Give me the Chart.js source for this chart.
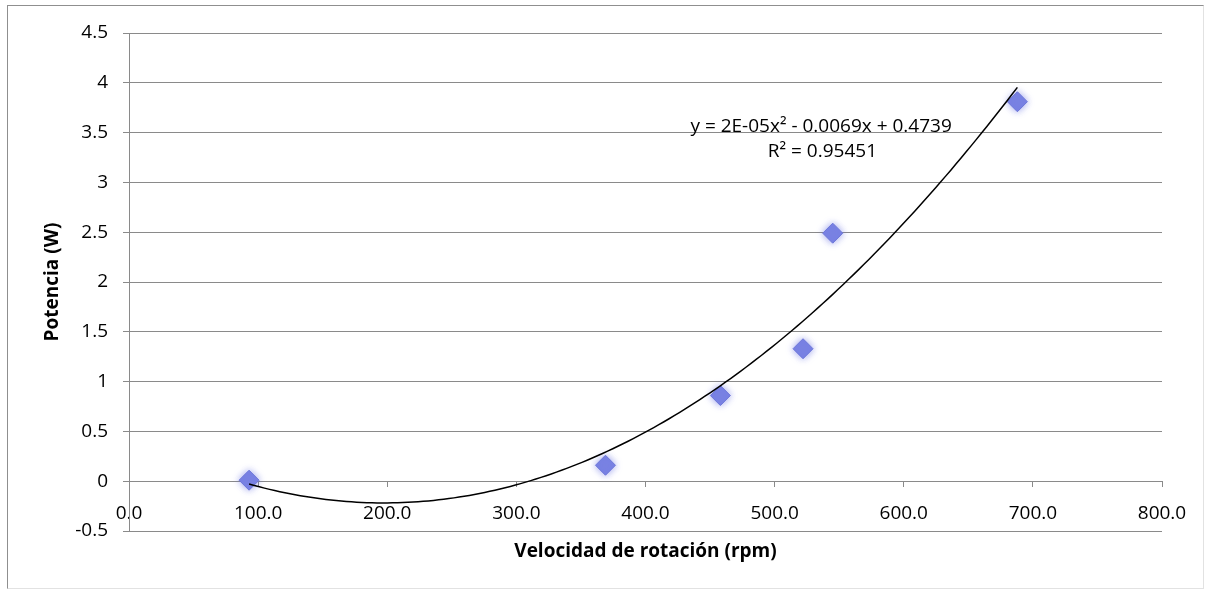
<!DOCTYPE html>
<html lang="es">
<head>
<meta charset="utf-8">
<title>Potencia vs velocidad de rotación</title>
<script src="https://cdn.jsdelivr.net/npm/chart.js@4.4.1/dist/chart.umd.min.js"></script>
<style>
  html, body { margin: 0; padding: 0; background: #fff; }
  #wrap { position: relative; width: 1212px; height: 590px; }
  #frame {
    position: absolute; left: 7px; top: 5px; width: 1195px; height: 582px;
    border-left: 1px solid #8f8f8f; border-top: 1px solid #8f8f8f;
    border-right: 1px solid #e2e2e2; border-bottom: 1px solid #e2e2e2;
    pointer-events: none;
  }
</style>
</head>
<body>
<div id="wrap">
  <canvas id="potChart" width="1212" height="590"></canvas>
  <div id="frame"></div>
</div>
<script>
// measured points
const rpm = [93, 369, 458, 522, 545, 688];
const potencia = [0.01, 0.16, 0.86, 1.33, 2.49, 3.81];

// axis ranges
const xRange = [0, 800, 100];
const yRange = [-0.5, 4.5, 0.5];

// trendline label text and its anchor (data units)
const eqText = 'y = 2E-05x\u00B2 - 0.0069x + 0.4739';
const r2Text = 'R\u00B2 = 0.95451';
const eqAnchor = [536, 3.56];
const r2Anchor = [537, 3.31];

const gridGrey = '#8a8a8a';
const fontFamily = '"Open Sans", "DejaVu Sans", sans-serif';

// least squares fit of a 2nd order polynomial -> [a, b, c]
function polyFit2(xs, ys) {
  let s = [0, 0, 0, 0, 0], t = [0, 0, 0];
  xs.forEach((x, i) => {
    for (let k = 0; k < 5; k++) s[k] += Math.pow(x, k);
    for (let k = 0; k < 3; k++) t[k] += ys[i] * Math.pow(x, k);
  });
  // normal equations, unknowns c0 + c1 x + c2 x^2
  const m = [
    [s[0], s[1], s[2], t[0]],
    [s[1], s[2], s[3], t[1]],
    [s[2], s[3], s[4], t[2]]
  ];
  for (let i = 0; i < 3; i++) {
    for (let j = i + 1; j < 3; j++) {
      const f = m[j][i] / m[i][i];
      for (let k = i; k < 4; k++) m[j][k] -= f * m[i][k];
    }
  }
  const c = [0, 0, 0];
  for (let i = 2; i >= 0; i--) {
    let v = m[i][3];
    for (let k = i + 1; k < 3; k++) v -= m[i][k] * c[k];
    c[i] = v / m[i][i];
  }
  return [c[2], c[1], c[0]];
}

const [qa, qb, qc] = polyFit2(rpm, potencia);
const xMin = Math.min(...rpm), xMax = Math.max(...rpm);
const trend = [];
for (let i = 0; i <= 150; i++) {
  const x = xMin + (xMax - xMin) * i / 150;
  trend.push({ x: x, y: qa * x * x + qb * x + qc });
}

const points = rpm.map((x, i) => ({ x: x, y: potencia[i] }));

// soft glow under the diamonds
const markerGlow = {
  id: 'markerGlow',
  beforeDatasetDraw(chart, args) {
    if (args.index !== 1) return;
    const ctx = chart.ctx;
    ctx.save();
    ctx.shadowColor = 'rgba(90, 100, 225, 0.6)';
    ctx.shadowBlur = 7;
  },
  afterDatasetDraw(chart, args) {
    if (args.index !== 1) return;
    chart.ctx.restore();
  }
};

// equation + R² text next to the curve
const eqLabel = {
  id: 'eqLabel',
  afterDatasetsDraw(chart) {
    const { ctx, scales: { x, y } } = chart;
    ctx.save();
    ctx.font = '19px ' + fontFamily;
    ctx.fillStyle = '#000';
    ctx.textAlign = 'center';
    ctx.textBaseline = 'middle';
    ctx.fillText(eqText, x.getPixelForValue(eqAnchor[0]), y.getPixelForValue(eqAnchor[1]));
    ctx.fillText(r2Text, x.getPixelForValue(r2Anchor[0]), y.getPixelForValue(r2Anchor[1]));
    ctx.restore();
  }
};

Chart.defaults.font.family = fontFamily;
Chart.defaults.color = '#000';

new Chart(document.getElementById('potChart'), {
  type: 'scatter',
  data: {
    datasets: [
      {
        label: 'Polinómica',
        data: trend,
        showLine: true,
        borderColor: '#000',
        borderWidth: 1.5,
        pointRadius: 0,
        fill: false
      },
      {
        label: 'Potencia',
        data: points,
        pointStyle: 'rectRot',
        pointRadius: 10,
        backgroundColor: '#7a83e3',
        borderColor: '#6c76d8',
        borderWidth: 1
      }
    ]
  },
  options: {
    responsive: false,
    animation: false,
    layout: { padding: { top: 33, right: 50, bottom: 0, left: 0 } },
    plugins: {
      legend: { display: false },
      tooltip: { enabled: false },
      title: {
        display: true,
        text: 'Velocidad de rotación (rpm)',
        position: 'bottom',
        fullSize: false,
        color: '#000',
        font: { size: 19, weight: 'bold' },
        padding: { top: 9.6, bottom: 26.6 }
      }
    },
    scales: {
      x: {
        type: 'linear',
        position: { y: 0 },
        min: xRange[0],
        max: xRange[1],
        ticks: {
          stepSize: xRange[2],
          padding: 16,
          maxRotation: 0,
          font: { size: 19 },
          callback: (v) => Number(v).toFixed(1)
        },
        grid: { drawOnChartArea: false, tickLength: 5, color: gridGrey },
        border: { color: gridGrey }
      },
      y: {
        type: 'linear',
        position: 'left',
        min: yRange[0],
        max: yRange[1],
        ticks: {
          stepSize: yRange[2],
          padding: 15,
          font: { size: 19 },
          callback: (v) => String(v)
        },
        grid: { color: gridGrey, tickLength: 6 },
        border: { color: gridGrey },
        title: {
          display: true,
          text: 'Potencia (W)',
          font: { size: 19, weight: 'bold' },
          padding: { top: 41, bottom: 0 }
        },
        afterFit: (scale) => { scale.width = 129; }
      }
    }
  },
  plugins: [markerGlow, eqLabel]
});
</script>
</body>
</html>
